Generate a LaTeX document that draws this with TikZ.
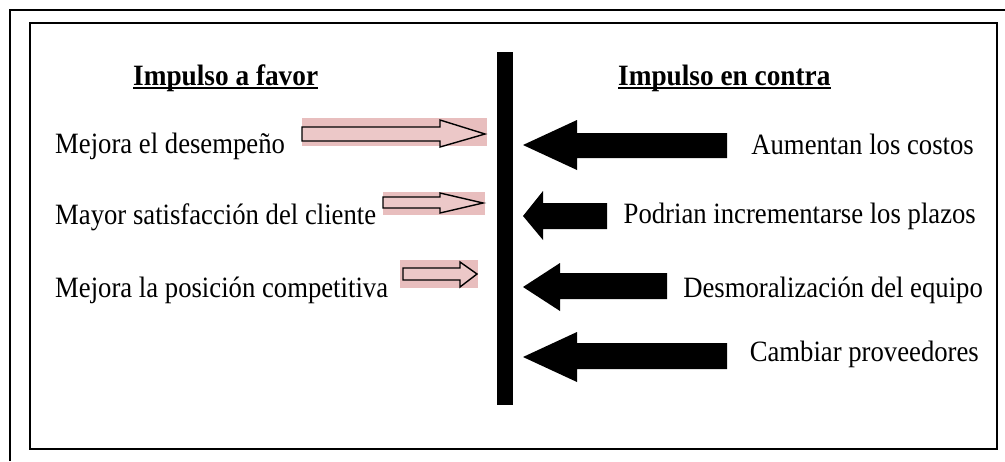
\documentclass[tikz,border=0pt]{standalone}
\usepackage{fontspec}
\setmainfont{Liberation Serif}
\begin{document}
\begin{tikzpicture}[x=1pt,y=-1pt,
  lbl/.style={inner sep=0pt,font=\fontsize{29.5}{32}\selectfont,xscale=0.905,transform shape},
  head/.style={inner sep=0pt,font=\fontsize{29.5}{32}\selectfont\bfseries,xscale=0.925,transform shape},
  favor/.style={draw=black,line width=1.4pt,fill=pinkfill,line join=miter},
  favorbg/.style={fill=pinkbg,draw=none},
  contra/.style={fill=black,draw=none},
  frame/.style={draw=black,line width=2.6pt}]
\definecolor{pinkfill}{RGB}{236,200,200}
\definecolor{pinkbg}{RGB}{232,190,190}
\useasboundingbox (0,0) rectangle (1005,461);
% outer and inner frames
\draw[line width=1.5pt] (10,461) -- (10,10) -- (1005,10);
\draw[frame] (30,23) rectangle (997,449);
% central barrier
\fill (497,52) rectangle (513,405);
% headings
\node[head,anchor=base west] (hfavor) at (133,85) {Impulso a favor};
\node[head,anchor=base west] (hcontra) at (618,85) {Impulso en contra};
\draw[line width=2.8pt] ([yshift=-3pt]hfavor.base west) -- ([yshift=-3pt]hfavor.base east);
\draw[line width=2.8pt] ([yshift=-3pt]hcontra.base west) -- ([yshift=-3pt]hcontra.base east);
% forces in favour
\node[lbl,anchor=base west] (f1) at (55,153) {Mejora el desempeño};
\node[lbl,anchor=base west] (f2) at (55,224) {Mayor satisfacción del cliente};
\node[lbl,anchor=base west] (f3) at (55,297) {Mejora la posición competitiva};
\fill[favorbg] (302,118) rectangle (487,146);
\draw[favor] (302,127) -- (440,127) -- (440,120) -- (485,134) -- (440,147) -- (440,141) -- (302,141) -- cycle;
\fill[favorbg] (383,192) rectangle (485,215);
\draw[favor] (383,197) -- (440,197) -- (440,193) -- (483,203) -- (440,213) -- (440,208) -- (383,208) -- cycle;
\fill[favorbg] (400,260) rectangle (478,288);
\draw[favor] (403,268) -- (460,268) -- (460,262) -- (477,274) -- (460,287) -- (460,280) -- (403,280) -- cycle;
% forces against
\node[lbl,anchor=base east] (c1) at (974,154) {Aumentan los costos};
\node[lbl,anchor=base east] (c2) at (976,223) {Podrian incrementarse los plazos};
\node[lbl,anchor=base east] (c3) at (983,297) {Desmoralización del equipo};
\node[lbl,anchor=base east] (c4) at (979,361) {Cambiar proveedores};
\fill[contra] (727,133) -- (577,133) -- (577,120) -- (523,145) -- (577,170) -- (577,158) -- (727,158) -- cycle;
\fill[contra] (607,203) -- (543,203) -- (543,191) -- (523,216) -- (543,240) -- (543,229) -- (607,229) -- cycle;
\fill[contra] (667,273) -- (560,273) -- (560,263) -- (523,287) -- (560,311) -- (560,299) -- (667,299) -- cycle;
\fill[contra] (727,343) -- (577,343) -- (577,332) -- (523,357) -- (577,382) -- (577,369) -- (727,369) -- cycle;
\end{tikzpicture}
\end{document}
